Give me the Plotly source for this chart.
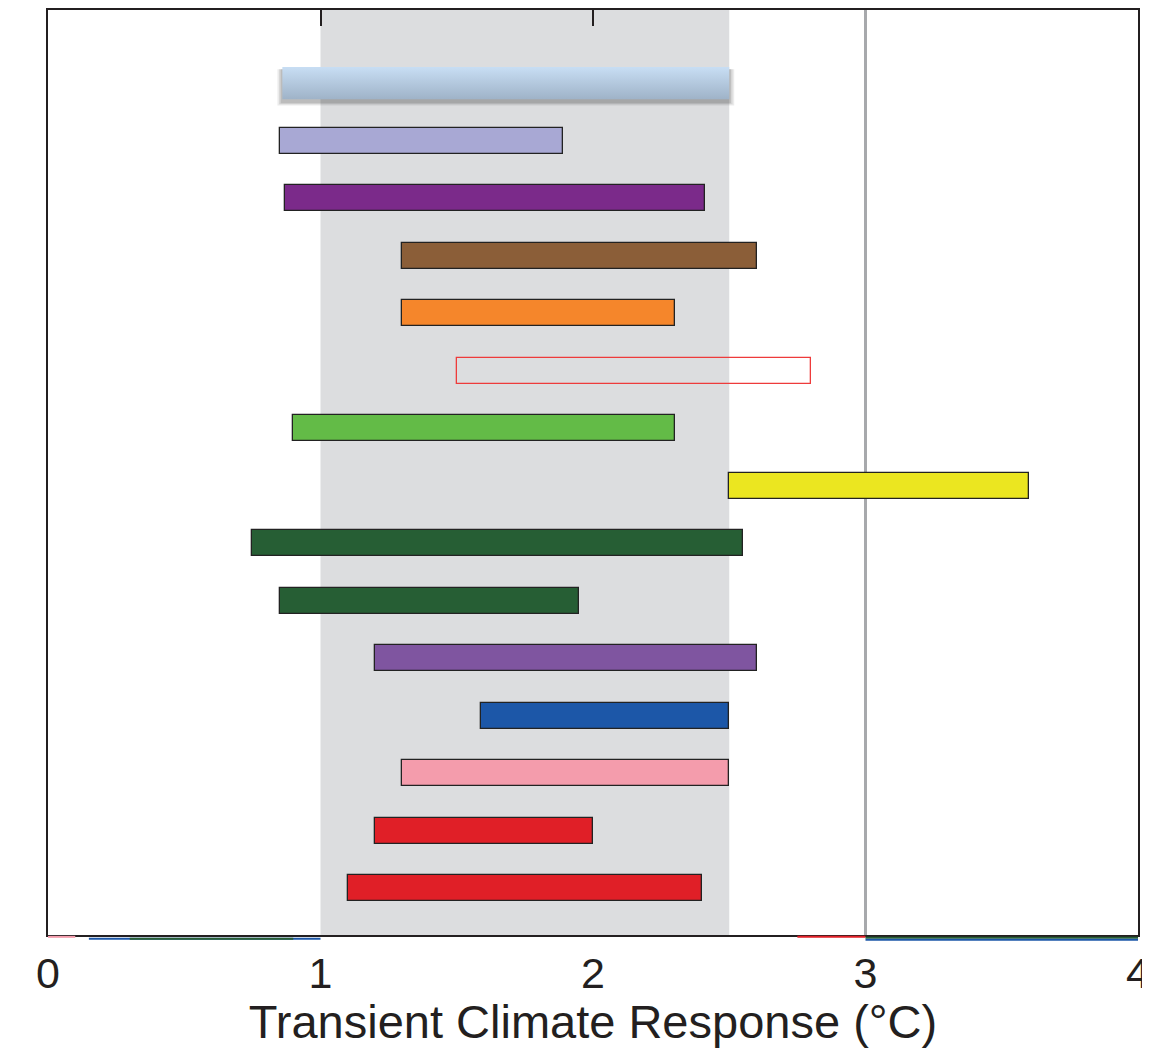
import plotly.graph_objects as go

# Data, top to bottom
starts = [0.86, 0.85, 0.87, 1.30, 1.30, 1.50, 0.90, 2.50, 0.75, 0.85, 1.20, 1.59, 1.30, 1.20, 1.10]
ends   = [2.50, 1.89, 2.41, 2.60, 2.30, 2.80, 2.30, 3.60, 2.55, 1.95, 2.60, 2.50, 2.50, 2.00, 2.40]
colors = ["#b9d2ec", "#a8a8d4", "#7b2a8a", "#8b5e38", "#f5862b", "rgba(0,0,0,0)", "#63bb47",
          "#ebe620", "#265e34", "#265e34", "#7f55a0", "#1c57a8", "#f49cac", "#e01f27", "#e01f27"]
edges  = ["#000000", "#222222", "#222222", "#222222", "#222222", "#ee3b3b", "#222222",
          "#222222", "#222222", "#222222", "#222222", "#222222", "#222222", "#222222", "#222222"]
band_lo, band_hi = 1.0, 2.5
ref_line = 3.0
x_ticks = [0, 1, 2, 3, 4]
top_ticks = [1, 2]

pos = list(range(len(starts)))
H = 0.45

fig = go.Figure()

# Shaded likely range
fig.add_shape(type="rect", xref="x", yref="paper", x0=band_lo, x1=band_hi, y0=0, y1=1,
              fillcolor="#dcdddf", line_width=0, layer="below")
fig.add_shape(type="line", xref="x", yref="paper", x0=ref_line, x1=ref_line, y0=0, y1=1,
              line=dict(color="#a7a9ac", width=3), layer="below")

# First (gradient) bar drawn as filled polygons
s0, e0, p0 = starts[0], ends[0], pos[0]
hh = 0.28
# shadow
for k, a in enumerate([0.10, 0.12, 0.16]):
    d = 0.02 * (3 - k)
    fig.add_trace(go.Scatter(
        x=[s0 - d * 0.3, e0 + d * 0.3, e0 + d * 0.3, s0 - d * 0.3, s0 - d * 0.3],
        y=[p0 - hh + 0.04, p0 - hh + 0.04, p0 + hh + 0.05 + d, p0 + hh + 0.05 + d, p0 - hh + 0.04],
        mode="lines", line=dict(width=0), fill="toself",
        fillcolor=f"rgba(60,60,60,{a})", hoverinfo="skip", showlegend=False))
fig.add_trace(go.Scatter(
    x=[s0, e0, e0, s0, s0],
    y=[p0 - hh, p0 - hh, p0 + hh, p0 + hh, p0 - hh],
    mode="lines", line=dict(width=0), fill="toself",
    fillgradient=dict(type="vertical", colorscale=[[0, "#9fb3c8"], [1, "#c8def4"]]),
    hoverinfo="skip", showlegend=False))

# Remaining bars
fig.add_trace(go.Bar(
    y=pos[1:], base=starts[1:], x=[e - s for s, e in zip(starts[1:], ends[1:])],
    orientation="h", width=H,
    marker=dict(color=colors[1:], line=dict(color=edges[1:], width=1.3)),
    showlegend=False, hoverinfo="skip"))

# top-axis ticks
fig.add_trace(go.Scatter(x=[None], y=[None], xaxis="x2", showlegend=False))

# faint artifacts of a neighbouring panel below the axis
art = [("#f49cac", 0.0, 0.1, -0.002), ("#1c57a8", 0.15, 1.0, -0.004), ("#265e34", 0.3, 0.9, -0.004),
       ("#e01f27", 2.75, 3.0, -0.002), ("#265e34", 3.0, 4.0, -0.003), ("#1c57a8", 3.0, 4.0, -0.005)]
for c, a0, a1, yy in art:
    fig.add_shape(type="line", xref="x", yref="paper", x0=a0, x1=a1, y0=yy, y1=yy,
                  line=dict(color=c, width=2))

fig.update_layout(
    width=1142, height=1040,
    margin=dict(l=40, r=10, t=0, b=113),
    paper_bgcolor="white", plot_bgcolor="white",
    font=dict(family="Liberation Sans, Arial, sans-serif", color="#231f20"),
    bargap=0,
    xaxis=dict(range=[0, 4], tickvals=x_ticks, ticktext=[str(t) for t in x_ticks],
               tickfont=dict(size=43), ticks="", showgrid=False, zeroline=False,
               ticklabelstandoff=-1, ticklabeloverflow="allow",
               showline=True, linecolor="#231f20", linewidth=2, mirror=True,
               title=dict(text="Transient Climate Response (°C)", font=dict(size=47), standoff=6)),
    xaxis2=dict(range=[0, 4], overlaying="x", side="top", tickvals=top_ticks, ticks="inside",
                ticklen=16, tickwidth=2, tickcolor="#231f20", showticklabels=False,
                showgrid=False, zeroline=False, showline=False),
    yaxis=dict(range=[14.81, -1.27], showticklabels=False, ticks="", showgrid=False,
               zeroline=False, showline=True, linecolor="#231f20", linewidth=2, mirror=True),
)

fig.write_html("out.html", config={"displayModeBar": False})
